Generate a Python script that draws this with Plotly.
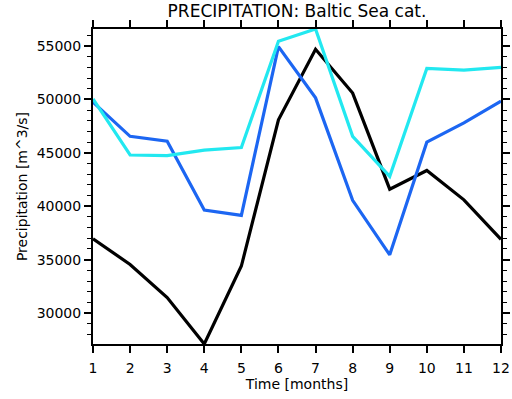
import plotly.graph_objects as go

months = list(range(1, 13))
month_labels = [str(m) for m in months]

# monthly precipitation for the Baltic Sea catchment [m^3/s]
precip_black = [36950, 34550, 31450, 27100, 34400, 48100, 54700, 50600, 41600, 43350, 40600, 36900]
precip_blue = [49750, 46550, 46100, 39650, 39150, 54950, 50150, 40550, 35450, 46000, 47800, 49850]
precip_cyan = [50050, 44800, 44750, 45250, 45500, 55450, 56600, 46550, 42800, 52900, 52750, 53000]

y_ticks = [30000, 35000, 40000, 45000, 50000, 55000]
y_labels = [str(v) for v in y_ticks]

series = [
    (precip_black, "#000000"),
    (precip_blue, "#1C66F2"),
    (precip_cyan, "#22E8F0"),
]

fig = go.Figure()
for values, colour in series:
    fig.add_trace(go.Scatter(
        x=months, y=values, mode="lines",
        line=dict(color=colour, width=3.2),
        showlegend=False,
    ))

all_vals = precip_black + precip_blue + precip_cyan
ymin, ymax = min(all_vals), max(all_vals)

font_family = "DejaVu Sans, Verdana, sans-serif"

fig.update_layout(
    width=512, height=399,
    margin=dict(l=93, r=11, t=29, b=55),
    paper_bgcolor="white", plot_bgcolor="white",
    font=dict(family=font_family, size=14, color="black"),
    title=dict(
        text="PRECIPITATION: Baltic Sea cat.",
        x=0.5, xanchor="center", xref="paper",
        y=1, yref="container", yanchor="top", pad=dict(t=5),
        font=dict(size=17),
    ),
)

fig.update_xaxes(
    range=[1, 12], tickvals=months, ticktext=month_labels,
    automargin=False,
    showgrid=False, zeroline=False,
    showline=True, linecolor="black", linewidth=2, mirror="ticks",
    ticks="outside", ticklen=7, tickwidth=1.5, tickcolor="black",
    ticklabelstandoff=3,
    title=dict(text="Time [months]", standoff=1, font=dict(size=14)),
    tickfont=dict(size=14),
)
fig.update_yaxes(
    range=[ymin, ymax], tickvals=y_ticks, ticktext=y_labels,
    automargin=False,
    showgrid=False, zeroline=False,
    showline=True, linecolor="black", linewidth=2, mirror="ticks",
    ticks="outside", ticklen=7, tickwidth=1.5, tickcolor="black",
    minor=dict(dtick=1000, ticks="outside", ticklen=4, tickwidth=1, tickcolor="black"),
    title=dict(text="Precipitation [m^3/s]", standoff=6, font=dict(size=14)),
    tickfont=dict(size=14),
)

fig.write_html("out.html")
